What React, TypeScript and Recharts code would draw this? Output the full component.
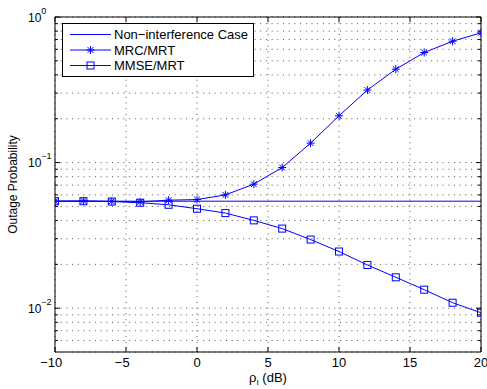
import React from 'react';
import { LineChart, Line, XAxis, YAxis, CartesianGrid, Legend } from 'recharts';

const snrDb = [-10, -8, -6, -4, -2, 0, 2, 4, 6, 8, 10, 12, 14, 16, 18, 20];
const nonInterference = [0.0543, 0.0543, 0.0543, 0.0543, 0.0543, 0.0543, 0.0543, 0.0543, 0.0543, 0.0543, 0.0543, 0.0543, 0.0543, 0.0543, 0.0543, 0.0543];
const mrcMrt = [0.0543, 0.0545, 0.0542, 0.0537, 0.0552, 0.0557, 0.060, 0.0711, 0.0925, 0.136, 0.2095, 0.315, 0.438, 0.570, 0.682, 0.778];
const mmseMrt = [0.0543, 0.0543, 0.054, 0.053, 0.0513, 0.0482, 0.045, 0.0401, 0.0352, 0.0296, 0.0245, 0.0198, 0.0163, 0.0134, 0.0109, 0.0093];

const seriesNames = ['Non\u2212interference Case', 'MRC/MRT', 'MMSE/MRT'];
const xTicks = [-10, -5, 0, 5, 10, 15, 20];
const yMajorTicks = [0.01, 0.1, 1];
const yMajorExponents = ['\u22122', '\u22121', '0'];
const yAllTicks = [0.006, 0.007, 0.008, 0.009, 0.01, 0.02, 0.03, 0.04, 0.05, 0.06, 0.07, 0.08, 0.09, 0.1, 0.2, 0.3, 0.4, 0.5, 0.6, 0.7, 0.8, 0.9, 1];
const yDomain = [0.005, 1];
const xDomain = [-10, 20];

const data = snrDb.map((x, i) => ({ x, non: nonInterference[i], mrc: mrcMrt[i], mmse: mmseMrt[i] }));

const BLUE = '#0000ff';
const FONT = '"Liberation Sans", Arial, Helvetica, sans-serif';

const StarDot = (props: any) => {
  const { cx, cy } = props;
  if (cx == null || cy == null) return null;
  const r = 4;
  const d = r * 0.72;
  return (
    <g stroke={BLUE} strokeWidth={1}>
      <line x1={cx - r} y1={cy} x2={cx + r} y2={cy} />
      <line x1={cx} y1={cy - r} x2={cx} y2={cy + r} />
      <line x1={cx - d} y1={cy - d} x2={cx + d} y2={cy + d} />
      <line x1={cx - d} y1={cy + d} x2={cx + d} y2={cy - d} />
    </g>
  );
};

const SquareDot = (props: any) => {
  const { cx, cy } = props;
  if (cx == null || cy == null) return null;
  const s = 7;
  return <rect x={cx - s / 2} y={cy - s / 2} width={s} height={s} fill="none" stroke={BLUE} strokeWidth={1} />;
};

const BottomTick = (props: any) => {
  const { x, y, payload } = props;
  const v = payload.value as number;
  const digits = String(Math.abs(v));
  const half = (digits.length * 7.23) / 2;
  return (
    <g>
      <line x1={x} y1={y} x2={x} y2={y - 5} stroke="#000" />
      <text x={x} y={y + 15} textAnchor="middle" fontSize={13} fontFamily={FONT} fill="#000">{digits}</text>
      {v < 0 && (
        <text x={x - half} y={y + 15} textAnchor="end" fontSize={13} fontFamily={FONT} fill="#000">{'\u2212'}</text>
      )}
    </g>
  );
};

const TopTick = (props: any) => {
  const { x, y } = props;
  return <line x1={x} y1={y} x2={x} y2={y + 5} stroke="#000" />;
};

const LeftTick = (props: any) => {
  const { x, y, payload } = props;
  const idx = yMajorTicks.indexOf(payload.value);
  const len = idx >= 0 ? 5 : 3;
  return (
    <g>
      <line x1={x} y1={y} x2={x + len} y2={y} stroke="#000" />
      {idx >= 0 && (
        <text y={y + 4.5} fontFamily={FONT} fill="#000">
          <tspan x={x - 27} fontSize={12}>10</tspan>
          <tspan dy={-8} fontSize={9}>{yMajorExponents[idx]}</tspan>
        </text>
      )}
    </g>
  );
};

const RightTick = (props: any) => {
  const { x, y, payload } = props;
  const idx = yMajorTicks.indexOf(payload.value);
  const len = idx >= 0 ? 5 : 3;
  return <line x1={x} y1={y} x2={x - len} y2={y} stroke="#000" />;
};

const XLabel = (props: any) => {
  const vb = props.viewBox || {};
  const cx = vb.x + vb.width / 2;
  return (
    <text x={cx} y={vb.y + 30} textAnchor="middle" fontSize={13} fontFamily={FONT} fill="#000">
      <tspan>ρ</tspan>
      <tspan dy={3} fontSize={8}>I</tspan>
      <tspan dy={-3}> (dB)</tspan>
    </text>
  );
};

const YLabel = (props: any) => {
  const vb = props.viewBox || {};
  const cy = vb.y + vb.height / 2;
  const lx = 17;
  return (
    <text x={lx} y={cy} transform={`rotate(-90 ${lx} ${cy})`} textAnchor="middle" fontSize={12} fontFamily={FONT} fill="#000">
      Outage Probability
    </text>
  );
};

const LegendBox = () => {
  const rows = [11.5, 27, 42.5];
  return (
    <svg width={192} height={54} style={{ display: 'block' }}>
      <rect x={0.5} y={0.5} width={191} height={53} fill="#fff" stroke="#000" strokeWidth={1} />
      {seriesNames.map((name, i) => (
        <g key={name}>
          <line x1={8} y1={rows[i]} x2={49} y2={rows[i]} stroke={BLUE} strokeWidth={1} />
          {i === 1 && <StarDot cx={28.5} cy={rows[i]} />}
          {i === 2 && <SquareDot cx={28.5} cy={rows[i]} />}
          <text x={52} y={rows[i] + 4.5} fontSize={13} fontFamily={FONT} fill="#000">{name}</text>
        </g>
      ))}
    </svg>
  );
};

export default function App() {
  return (
    <div style={{ position: 'absolute', left: 0, top: 0, width: 487, height: 389, background: '#fff' }}>
      <LineChart width={487} height={389} data={data} margin={{ top: 12, right: 1, bottom: 0, left: 0 }}>
        <CartesianGrid stroke="#555" strokeDasharray="1 4.7" strokeWidth={1} xAxisId="bottom" yAxisId="left" />
        <XAxis
          xAxisId="bottom"
          dataKey="x"
          type="number"
          domain={xDomain}
          ticks={xTicks}
          interval={0}
          allowDataOverflow
          height={37}
          tickSize={0}
          tickMargin={0}
          tick={<BottomTick />}
          tickLine={false}
          axisLine={{ stroke: '#000' }}
          label={<XLabel />}
        />
        <XAxis
          xAxisId="top"
          orientation="top"
          dataKey="x"
          type="number"
          domain={xDomain}
          ticks={xTicks}
          interval={0}
          allowDataOverflow
          height={5}
          tickSize={0}
          tickMargin={0}
          tick={<TopTick />}
          tickLine={false}
          axisLine={{ stroke: '#000' }}
        />
        <YAxis
          yAxisId="left"
          type="number"
          scale="log"
          domain={yDomain}
          ticks={yAllTicks}
          interval={0}
          allowDataOverflow
          width={55}
          tickSize={0}
          tickMargin={0}
          tick={<LeftTick />}
          tickLine={false}
          axisLine={{ stroke: '#000' }}
          label={<YLabel />}
        />
        <YAxis
          yAxisId="right"
          orientation="right"
          type="number"
          scale="log"
          domain={yDomain}
          ticks={yAllTicks}
          interval={0}
          allowDataOverflow
          width={5}
          tickSize={0}
          tickMargin={0}
          tick={<RightTick />}
          tickLine={false}
          axisLine={{ stroke: '#000' }}
        />
        <Line xAxisId="bottom" yAxisId="left" type="linear" dataKey="non" name={seriesNames[0]} stroke={BLUE} strokeWidth={1} dot={false} isAnimationActive={false} />
        <Line xAxisId="bottom" yAxisId="left" type="linear" dataKey="mrc" name={seriesNames[1]} stroke={BLUE} strokeWidth={1} dot={<StarDot />} isAnimationActive={false} />
        <Line xAxisId="bottom" yAxisId="left" type="linear" dataKey="mmse" name={seriesNames[2]} stroke={BLUE} strokeWidth={1} dot={<SquareDot />} isAnimationActive={false} />
        <Legend
          layout="vertical"
          align="center"
          verticalAlign="middle"
          content={<LegendBox />}
          wrapperStyle={{ left: 62, top: 23, width: 192, height: 54 }}
        />
      </LineChart>
    </div>
  );
}
